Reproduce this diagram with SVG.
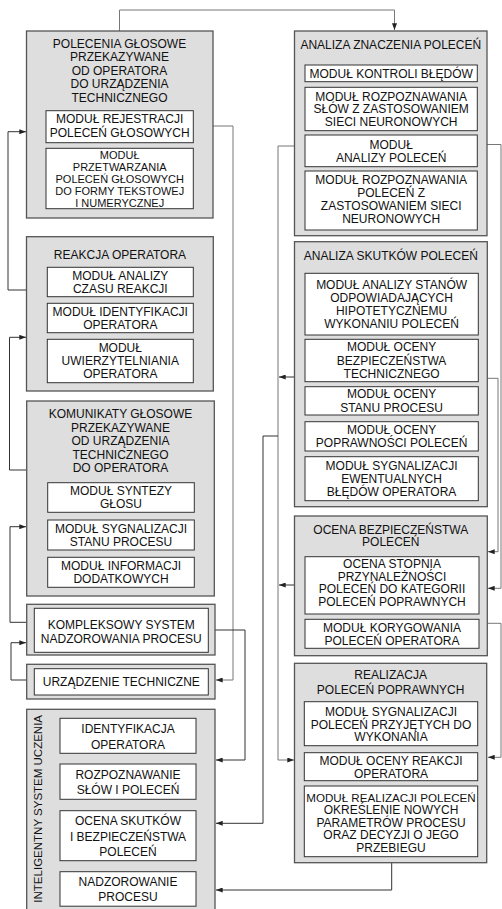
<svg xmlns="http://www.w3.org/2000/svg" width="502" height="909" viewBox="0 0 502 909">
<style>
.outer{fill:#dedede;stroke:#555;stroke-width:1.3}
.inner{fill:#fff;stroke:#333;stroke-width:1}
text{font-family:"Liberation Sans",Arial,sans-serif;font-size:12px;fill:#111;text-anchor:middle}
.sm{font-size:11px}
.ln{fill:none;stroke:#333;stroke-width:1}
.lg{fill:none;stroke:#777;stroke-width:1}
</style>
<defs>
<marker id="ah" viewBox="0 0 8 6" refX="8" refY="3" markerWidth="7" markerHeight="5" orient="auto" markerUnits="userSpaceOnUse"><path d="M0,0 L8,3 L0,6 z" fill="#222"/></marker>
</defs>

<g id="connectors">
<path class="lg" d="M119.5,31 V10 H394.5 V30" marker-end="url(#ah)"/>
<path class="ln" d="M26.5,290 H8 V131.7 H26" marker-end="url(#ah)"/>
<path class="lg" d="M213,126 H233 V680 H216" marker-end="url(#ah)"/>
<path class="ln" d="M26.7,470 H9.5 V337.3 H26" marker-end="url(#ah)"/>
<path class="ln" d="M26.7,622.3 H10 V526.7 H26" marker-end="url(#ah)"/>
<path class="ln" d="M26.7,680 H11 V642.7 H26" marker-end="url(#ah)"/>
<path class="ln" d="M208.3,630 H245 V760 H216" marker-end="url(#ah)"/>
<path class="lg" d="M294.5,146 H278 V760 H294" marker-end="url(#ah)"/>
<path class="ln" d="M294.5,377 H279" marker-end="url(#ah)"/>
<path class="ln" d="M294.5,585 H279" marker-end="url(#ah)"/>
<path class="ln" d="M278,436 H263 V823.3 H216" marker-end="url(#ah)"/>
<path class="lg" d="M487,144.5 H501 V588.3 H488" marker-end="url(#ah)"/>
<path class="lg" d="M487,378.3 H498 V551.7 H488" marker-end="url(#ah)"/>
<path class="lg" d="M487,623.3 H501 V757.3 H488" marker-end="url(#ah)"/>
<path class="ln" d="M391.7,862.7 V890 H216" marker-end="url(#ah)"/>
<path class="ln" d="M128,753.3 V763.5" marker-end="url(#ah)"/>
<path class="ln" d="M128,799.3 V810.2" marker-end="url(#ah)"/>
<path class="ln" d="M128,860.7 V871.2" marker-end="url(#ah)"/>
</g>

<g id="polecenia-glosowe">
<rect class="outer" x="26.5" y="31" width="186.5" height="187"/>
<text x="119.5" y="47.8">POLECENIA GŁOSOWE</text>
<text x="119.5" y="61.3">PRZEKAZYWANE</text>
<text x="119.5" y="74.8">OD OPERATORA</text>
<text x="119.5" y="88.3">DO URZĄDZENIA</text>
<text x="119.5" y="101.8">TECHNICZNEGO</text>
<rect class="inner" x="46" y="110.7" width="147.3" height="32"/>
<text x="119.7" y="123.3">MODUŁ REJESTRACJI</text>
<text x="119.7" y="137">POLECEŃ GŁOSOWYCH</text>
<rect class="inner" x="46" y="148.3" width="147.3" height="60.4"/>
<text class="sm" x="119.7" y="158.5">MODUŁ</text>
<text class="sm" x="119.7" y="170.5">PRZETWARZANIA</text>
<text class="sm" x="119.7" y="182.5">POLECEŃ GŁOSOWYCH</text>
<text class="sm" x="119.7" y="194.5">DO FORMY TEKSTOWEJ</text>
<text class="sm" x="119.7" y="206.5">I NUMERYCZNEJ</text>
</g>

<g id="reakcja-operatora">
<rect class="outer" x="26.5" y="236.7" width="186.8" height="154.3"/>
<text x="120" y="258.6">REAKCJA OPERATORA</text>
<rect class="inner" x="47.3" y="267.3" width="146" height="29.4"/>
<text x="120.3" y="279.8">MODUŁ ANALIZY</text>
<text x="120.3" y="292.8">CZASU REAKCJI</text>
<rect class="inner" x="47.3" y="303.3" width="146" height="29.4"/>
<text x="120.3" y="315.8">MODUŁ IDENTYFIKACJI</text>
<text x="120.3" y="328.8">OPERATORA</text>
<rect class="inner" x="47.3" y="339.3" width="146" height="43.4"/>
<text x="120.3" y="352.3">MODUŁ</text>
<text x="120.3" y="365.3">UWIERZYTELNIANIA</text>
<text x="120.3" y="378.3">OPERATORA</text>
</g>

<g id="komunikaty-glosowe">
<rect class="outer" x="26.7" y="401" width="187.6" height="195"/>
<text x="120.5" y="418.3">KOMUNIKATY GŁOSOWE</text>
<text x="120.5" y="431.7">PRZEKAZYWANE</text>
<text x="120.5" y="445.1">OD URZĄDZENIA</text>
<text x="120.5" y="458.5">TECHNICZNEGO</text>
<text x="120.5" y="471.9">DO OPERATORA</text>
<rect class="inner" x="47.7" y="482.7" width="146.6" height="29.6"/>
<text x="121" y="495.3">MODUŁ SYNTEZY</text>
<text x="121" y="508.3">GŁOSU</text>
<rect class="inner" x="47.7" y="520" width="146.6" height="30"/>
<text x="121" y="532.8">MODUŁ SYGNALIZACJI</text>
<text x="121" y="545.8">STANU PROCESU</text>
<rect class="inner" x="47.7" y="557.3" width="146.6" height="30"/>
<text x="121" y="570.3">MODUŁ INFORMACJI</text>
<text x="121" y="583.3">DODATKOWYCH</text>
</g>

<g id="kompleksowy-system">
<rect class="outer" x="26.7" y="604.3" width="188.3" height="50.7" stroke-width="1.6"/>
<rect class="inner" x="34.3" y="608.3" width="174" height="44" stroke-width="1.3"/>
<text x="121.3" y="629.3">KOMPLEKSOWY SYSTEM</text>
<text x="121.3" y="642.6">NADZOROWANIA PROCESU</text>
</g>

<g id="urzadzenie-techniczne">
<rect class="outer" x="26.7" y="664.3" width="188.3" height="34.7" stroke-width="1.6"/>
<rect class="inner" x="34.3" y="668.7" width="174" height="26.3" stroke-width="1.3"/>
<text x="121.3" y="686">URZĄDZENIE TECHNICZNE</text>
</g>

<g id="inteligentny-system-uczenia">
<rect class="outer" x="26.7" y="709.3" width="188.3" height="215"/>
<text transform="translate(42,715) rotate(-90)" style="text-anchor:end;font-size:11.5px">INTELIGENTNY SYSTEM UCZENIA</text>
<rect class="inner" x="60" y="718.3" width="136" height="35"/>
<text x="128" y="733.3">IDENTYFIKACJA</text>
<text x="128" y="748.6">OPERATORA</text>
<rect class="inner" x="60" y="764" width="136" height="35.3"/>
<text x="128" y="779.3">ROZPOZNAWANIE</text>
<text x="128" y="794.3">SŁÓW I POLECEŃ</text>
<rect class="inner" x="60" y="810.7" width="136" height="50"/>
<text x="128" y="825.3">OCENA SKUTKÓW</text>
<text x="128" y="840.8">I BEZPIECZEŃSTWA</text>
<text x="128" y="856.3">POLECEŃ</text>
<rect class="inner" x="60" y="871.7" width="136" height="34.5"/>
<text x="128" y="886">NADZOROWANIE</text>
<text x="128" y="901">PROCESU</text>
</g>

<g id="analiza-znaczenia">
<rect class="outer" x="294.5" y="31" width="192.5" height="204.7"/>
<text x="390.8" y="48.6">ANALIZA ZNACZENIA POLECEŃ</text>
<rect class="inner" x="305" y="65" width="172.3" height="16.7"/>
<text x="391.2" y="77.6">MODUŁ KONTROLI BŁĘDÓW</text>
<rect class="inner" x="305" y="87.3" width="172.3" height="43.4"/>
<text x="391.2" y="100.8">MODUŁ ROZPOZNAWANIA</text>
<text x="391.2" y="113.3">SŁÓW Z ZASTOSOWANIEM</text>
<text x="391.2" y="125.8">SIECI NEURONOWYCH</text>
<rect class="inner" x="305" y="135" width="172.3" height="31.7"/>
<text x="391.2" y="148.8">MODUŁ</text>
<text x="391.2" y="161.8">ANALIZY POLECEŃ</text>
<rect class="inner" x="305" y="171" width="172.3" height="59"/>
<text x="391.2" y="184.3">MODUŁ ROZPOZNAWANIA</text>
<text x="391.2" y="197.3">POLECEŃ Z</text>
<text x="391.2" y="210.3">ZASTOSOWANIEM SIECI</text>
<text x="391.2" y="223.3">NEURONOWYCH</text>
</g>

<g id="analiza-skutkow">
<rect class="outer" x="294.5" y="241.7" width="192.8" height="265"/>
<text x="390.8" y="260.3">ANALIZA SKUTKÓW POLECEŃ</text>
<rect class="inner" x="305" y="273.3" width="173.3" height="61.7"/>
<text x="391.6" y="288.7">MODUŁ ANALIZY STANÓW</text>
<text x="391.6" y="301.9">ODPOWIADAJĄCYCH</text>
<text x="391.6" y="315.1">HIPOTETYCZNEMU</text>
<text x="391.6" y="328.3">WYKONANIU POLECEŃ</text>
<rect class="inner" x="305" y="339.3" width="173.3" height="42.4"/>
<text x="391.6" y="351.3">MODUŁ OCENY</text>
<text x="391.6" y="364.6">BEZPIECZEŃSTWA</text>
<text x="391.6" y="377.9">TECHNICZNEGO</text>
<rect class="inner" x="305" y="386.7" width="173.3" height="28.3"/>
<text x="391.6" y="398.3">MODUŁ OCENY</text>
<text x="391.6" y="411.6">STANU PROCESU</text>
<rect class="inner" x="305" y="421.7" width="173.3" height="29.3"/>
<text x="391.6" y="433.8">MODUŁ OCENY</text>
<text x="391.6" y="447.1">POPRAWNOŚCI POLECEŃ</text>
<rect class="inner" x="305" y="456.7" width="173.3" height="44"/>
<text x="391.6" y="469.8">MODUŁ SYGNALIZACJI</text>
<text x="391.6" y="483">EWENTUALNYCH</text>
<text x="391.6" y="496.2">BŁĘDÓW OPERATORA</text>
</g>

<g id="ocena-bezpieczenstwa">
<rect class="outer" x="294.5" y="516" width="192.8" height="139.7"/>
<text x="390.8" y="533.6">OCENA BEZPIECZEŃSTWA</text>
<text x="390.8" y="546">POLECEŃ</text>
<rect class="inner" x="305" y="556.7" width="174" height="57.3"/>
<text x="392" y="568.3">OCENA STOPNIA</text>
<text x="392" y="580.8">PRZYNALEŻNOŚCI</text>
<text x="392" y="593.3">POLECEŃ DO KATEGORII</text>
<text x="392" y="605.8">POLECEŃ POPRAWNYCH</text>
<rect class="inner" x="305" y="619.3" width="174" height="29"/>
<text x="392" y="632">MODUŁ KORYGOWANIA</text>
<text x="392" y="644.6">POLECEŃ OPERATORA</text>
</g>

<g id="realizacja-polecen">
<rect class="outer" x="294.5" y="663.3" width="192.2" height="199.4"/>
<text x="390.6" y="679.3">REALIZACJA</text>
<text x="390.6" y="693.8">POLECEŃ POPRAWNYCH</text>
<rect class="inner" x="304.3" y="701.7" width="173.4" height="44"/>
<text x="391" y="715.8">MODUŁ SYGNALIZACJI</text>
<text x="391" y="728.5">POLECEŃ PRZYJĘTYCH DO</text>
<text x="391" y="741.2">WYKONANIA</text>
<rect class="inner" x="304.3" y="752.7" width="173.4" height="28"/>
<text x="391" y="764.5">MODUŁ OCENY REAKCJI</text>
<text x="391" y="777.6">OPERATORA</text>
<rect class="inner" x="304.3" y="786" width="173.4" height="70.7"/>
<text x="391" y="801.8" style="font-size:11.6px">MODUŁ REALIZACJI POLECEŃ</text>
<text x="391" y="814.3">OKREŚLENIE NOWYCH</text>
<text x="391" y="826.8">PARAMETRÓW PROCESU</text>
<text x="391" y="839.3">ORAZ DECYZJI O JEGO</text>
<text x="391" y="851.8">PRZEBIEGU</text>
</g>
</svg>
